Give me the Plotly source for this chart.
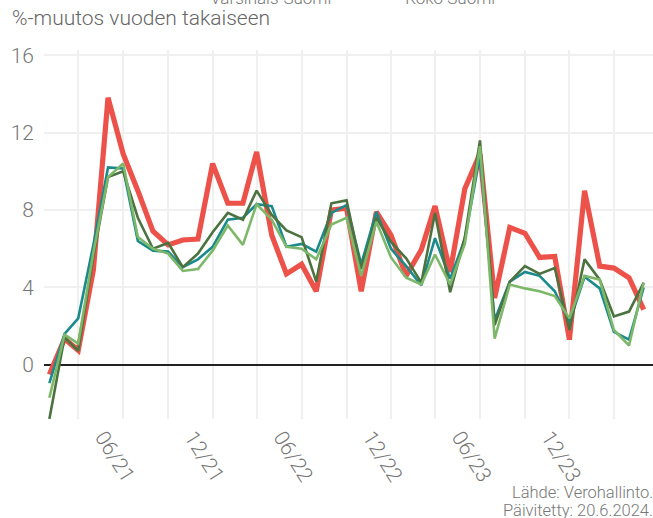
import plotly.graph_objects as go
import pandas as pd

dates = pd.date_range("2021-01-01", "2024-05-01", freq="MS")

red = [-0.5, 1.35, 0.75, 4.9, 13.8, 10.9, 9.0, 6.9, 6.2, 6.45, 6.5, 10.4, 8.35, 8.35, 11.0, 6.7, 4.7, 5.2, 3.8, 8.0,
       8.1, 3.8, 7.9, 6.7, 4.6, 5.95, 8.2, 4.8, 9.1, 10.9, 3.45, 7.1, 6.8, 5.55, 5.6, 1.3, 9.0, 5.1, 5.0, 4.5, 2.85]
teal = [-0.95, 1.6, 2.4, 6.2, 10.2, 10.15, 6.4, 5.9, 5.85, 5.05, 5.45, 6.1, 7.5, 7.6, 8.3, 8.2, 6.1, 6.25, 5.85, 7.85,
        8.25, 5.2, 7.9, 6.0, 5.1, 4.1, 6.55, 4.45, 6.5, 10.8, 2.3, 4.3, 4.8, 4.6, 3.8, 2.2, 4.55, 3.95, 1.7, 1.3, 4.0]
varsinais_suomi = [-2.8, 1.42, 0.73, 5.6, 9.7, 10.0, 7.6, 6.0, 6.3, 5.05, 5.75, 6.85, 7.85, 7.5, 9.0, 7.75, 6.95, 6.6, 4.3, 8.35,
                   8.5, 4.95, 7.6, 6.35, 5.5, 4.25, 7.85, 3.75, 6.6, 11.6, 2.05, 4.3, 5.1, 4.7, 5.0, 1.8, 5.45, 4.4, 2.5, 2.75, 4.25]
koko_suomi = [-1.7, 1.56, 1.1, 5.8, 9.7, 10.4, 6.6, 6.0, 5.75, 4.85, 4.95, 5.9, 7.2, 6.2, 8.3, 7.5, 6.1, 6.0, 5.45, 7.25,
              7.6, 4.6, 7.4, 5.55, 4.5, 4.15, 5.7, 4.15, 6.25, 11.3, 1.35, 4.15, 3.95, 3.8, 3.55, 2.4, 4.6, 4.4, 1.8, 1.0, 4.25]

tick_dates = ["2021-06-01", "2021-12-01", "2022-06-01", "2022-12-01", "2023-06-01", "2023-12-01"]
tick_labels = ["06/21", "12/21", "06/22", "12/22", "06/23", "12/23"]
y_ticks = [0, 4, 8, 12, 16]

FONT = "Roboto"
GRID = "#f0f0f0"
TXT = "#777777"

fig = go.Figure()
fig.add_trace(go.Scatter(x=dates, y=red, mode="lines", line=dict(color="#ec5249", width=5.2), showlegend=False))
fig.add_trace(go.Scatter(x=dates, y=teal, mode="lines", line=dict(color="#1b8a8c", width=2.6), showlegend=False))
fig.add_trace(go.Scatter(x=dates, y=varsinais_suomi, mode="lines", name="Varsinais-Suomi",
                         line=dict(color="#4c7240", width=2.6)))
fig.add_trace(go.Scatter(x=dates, y=koko_suomi, mode="lines", name="Koko Suomi",
                         line=dict(color="#7db86a", width=2.6)))

fig.update_layout(
    width=653, height=518,
    margin=dict(l=44, r=0, t=50, b=99, autoexpand=False),
    paper_bgcolor="white", plot_bgcolor="white",
    font=dict(family=FONT, color=TXT, size=21, weight=300),
    showlegend=True,
    legend=dict(orientation="h", x=0.5275, xanchor="center", y=1.141, yanchor="middle",
                entrywidth=150, entrywidthmode="pixels",
                font=dict(size=17, color=TXT), bgcolor="rgba(0,0,0,0)"),
    xaxis=dict(type="date", range=["2020-12-21", "2024-05-20"],
               tickvals=tick_dates, ticktext=tick_labels, tickangle=58,
               ticklabelshift=-20, ticklabelstandoff=1,
               showgrid=True, gridcolor=GRID, gridwidth=1.5,
               minor=dict(dtick="M3", tick0="2021-03-01", showgrid=True, gridcolor=GRID, gridwidth=1.5),
               showline=False, zeroline=False, ticks="",
               tickfont=dict(size=21, color=TXT)),
    yaxis=dict(range=[-2.8, 16.27], tickvals=y_ticks, showgrid=True, gridcolor=GRID, gridwidth=1.5,
               zeroline=True, zerolinecolor="#222222", zerolinewidth=1.5, ticks="",
               ticklabelstandoff=9,
               tickfont=dict(size=21, color=TXT)),
    annotations=[
        dict(text="%-muutos vuoden takaiseen", xref="paper", yref="paper", x=-0.0558, y=1.0867,
             xanchor="left", yanchor="middle", showarrow=False, font=dict(size=21, color="#666666")),
        dict(text="Lähde: Verohallinto.", xref="paper", yref="paper", x=1.0, y=-0.2005, xshift=2,
             xanchor="right", yanchor="middle", showarrow=False, font=dict(size=16.5, color="#777777")),
        dict(text="Päivitetty: 20.6.2024.", xref="paper", yref="paper", x=1.0, y=-0.2493, xshift=2,
             xanchor="right", yanchor="middle", showarrow=False, font=dict(size=16.5, color="#777777")),
    ],
)

fig.write_html("out.html", config={"displayModeBar": False},
               post_script="document.body.style.margin='0';")
